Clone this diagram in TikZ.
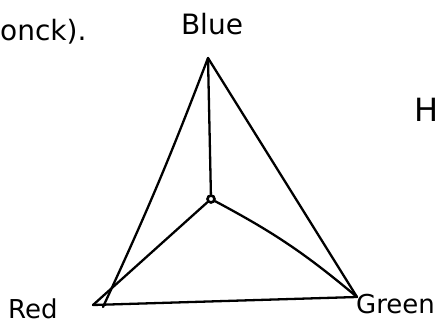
\documentclass[tikz,border=0pt]{standalone}
\usepackage{fontspec}
\newfontfamily\handfont{DejaVu Sans}
\usetikzlibrary{positioning}

\begin{document}
\begin{tikzpicture}[x=1pt, y=-1pt,
    stroke/.style={line width=2.3pt, line cap=round, line join=round},
    hand/.style={font=\handfont\fontsize{26}{30}\selectfont, inner sep=0pt},
    hub/.style={circle, draw, line width=2.6pt, inner sep=0pt, minimum size=7pt}
  ]
  \useasboundingbox (0,0) rectangle (439,323);
  \clip (0,0) rectangle (439,323);

  % Corners and centre
  \coordinate (blue)  at (208,58);
  \coordinate (red)   at (93,305);
  \coordinate (redb)  at (103,307);
  \coordinate (green) at (357,297);
  \node[hub] (mid) at (211,199) {};

  % Outer triangle
  \draw[stroke] (blue) to[bend left=2] (redb);
  \draw[stroke] (red) -- (green);
  \draw[stroke] (green) -- (blue);

  % Spokes
  \draw[stroke] (mid) -- (blue);
  \draw[stroke] (mid) -- (red);
  \draw[stroke] (mid) to[bend left=6] (green);

  % Labels
  \node[hand, anchor=base, font=\handfont\fontsize{28}{32}\selectfont] (blueL) at (212,35) {Blue};
  \node[hand, anchor=base west] (redL) at (8,318) {Red};
  \node[hand, anchor=base west] (greenL) at (356,313) {Green};
  \node[hand, anchor=base west, font=\handfont\fontsize{28}{32}\selectfont] (prev) at (0,41) {onck).};
  \node[hand, anchor=base east, font=\handfont\fontsize{32}{36}\selectfont] (cut) at (439,122) {H};
\end{tikzpicture}
\end{document}
